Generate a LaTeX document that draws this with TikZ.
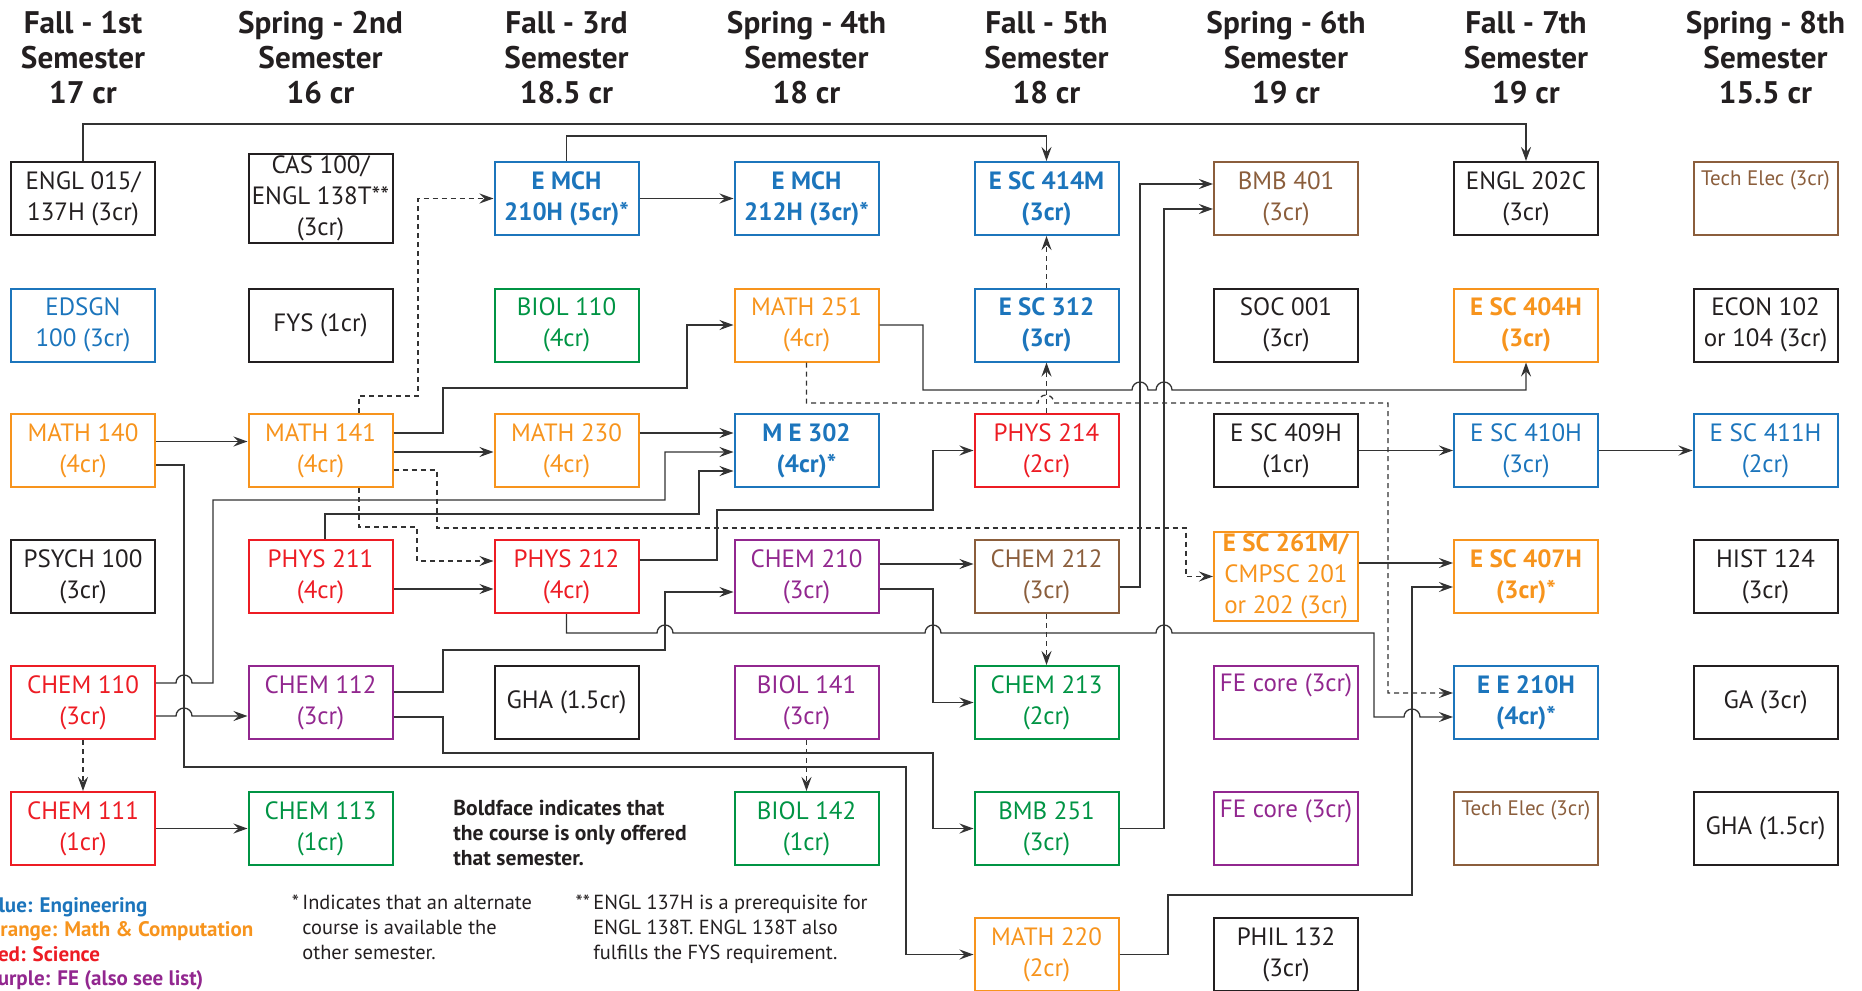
\documentclass[tikz,border=0pt]{standalone}
\usepackage{fontspec}
\setmainfont{PT Sans}
\usetikzlibrary{arrows.meta,calc}

\definecolor{engblue}{HTML}{1C75BC}
\definecolor{mathorange}{HTML}{F7941D}
\definecolor{scired}{HTML}{ED1C24}
\definecolor{fepurple}{HTML}{92278F}
\definecolor{biogreen}{HTML}{009444}
\definecolor{techbrown}{HTML}{8B5E3C}
\definecolor{boxblack}{HTML}{231F20}
\definecolor{linegray}{HTML}{333333}

\newcommand{\boxfont}{\fontsize{12.5}{15.5}\selectfont}

\begin{document}
\begin{tikzpicture}[x=0.5pt, y=-0.5pt,
    course/.style={draw=boxblack, text=boxblack, line width=1pt, minimum width=72pt,
        minimum height=36.5pt, inner sep=1pt, align=center, font=\boxfont},
    eng/.style={course, draw=engblue, text=engblue},
    mth/.style={course, draw=mathorange, text=mathorange},
    sci/.style={course, draw=scired, text=scired},
    fe/.style={course, draw=fepurple, text=fepurple},
    bio/.style={course, draw=biogreen, text=biogreen},
    tech/.style={course, draw=techbrown, text=techbrown},
    only/.style={font=\bfseries\boxfont},
    tall/.style={minimum height=44.5pt},
    toptext/.style={inner ysep=0pt, text height=12.75pt, text depth=23.75pt},
    techtext/.style={inner ysep=0pt, text height=11.75pt, text depth=24.75pt,
        font=\fontsize{10.5}{12}\selectfont},
    head/.style={align=center, text=boxblack, font=\bfseries\fontsize{15.6}{17.5}\selectfont},
    note/.style={align=left, inner sep=0pt, anchor=north west, text=boxblack,
        font=\fontsize{10.2}{12.5}\selectfont},
    link/.style={draw=linegray, line width=0.65pt, -{Stealth[length=7pt,width=5pt,inset=2.5pt]}},
    dlink/.style={link, dash pattern=on 2.5pt off 2pt}]

    \useasboundingbox (0,0) rectangle (1862,990);

    % semester headings
    \node[head] (h1) at (83,58)     {Fall - 1st\\Semester\\17 cr};
    \node[head] (h2) at (320.5,58)  {Spring - 2nd\\Semester\\16 cr};
    \node[head] (h3) at (566.5,58)  {Fall - 3rd\\Semester\\18.5 cr};
    \node[head] (h4) at (806.5,58)  {Spring - 4th\\Semester\\18 cr};
    \node[head] (h5) at (1046.5,58) {Fall - 5th\\Semester\\18 cr};
    \node[head] (h6) at (1286,58)   {Spring - 6th\\Semester\\19 cr};
    \node[head] (h7) at (1526,58)   {Fall - 7th\\Semester\\19 cr};
    \node[head] (h8) at (1765.5,58) {Spring - 8th\\Semester\\15.5 cr};

    % 1st semester
    \node[course] (engl015)  at (83,198.5) {ENGL 015/\\137H (3cr)};
    \node[eng]    (edsgn)    at (83,325)   {EDSGN\\100 (3cr)};
    \node[mth]    (math140)  at (83,450.5) {MATH 140\\(4cr)};
    \node[course] (psych)    at (83,576.5) {PSYCH 100\\(3cr)};
    \node[sci]    (chem110)  at (83,702.5) {CHEM 110\\(3cr)};
    \node[sci]    (chem111)  at (83,828.5) {CHEM 111\\(1cr)};

    % 2nd semester
    \node[course, tall] (cas100) at (320.5,198.5) {CAS 100/\\ENGL 138T**\\(3cr)};
    \node[course] (fys)      at (320.5,325)   {FYS (1cr)};
    \node[mth]    (math141)  at (320.5,450.5) {MATH 141\\(4cr)};
    \node[sci]    (phys211)  at (320.5,576.5) {PHYS 211\\(4cr)};
    \node[fe]     (chem112)  at (320.5,702.5) {CHEM 112\\(3cr)};
    \node[bio]    (chem113)  at (320.5,828.5) {CHEM 113\\(1cr)};

    % 3rd semester
    \node[eng, only] (emch210) at (566.5,198.5) {E MCH\\210H (5cr)*};
    \node[bio]    (biol110)  at (566.5,325)   {BIOL 110\\(4cr)};
    \node[mth]    (math230)  at (566.5,450.5) {MATH 230\\(4cr)};
    \node[sci]    (phys212)  at (566.5,576.5) {PHYS 212\\(4cr)};
    \node[course] (gha1)     at (566.5,702.5) {GHA (1.5cr)};

    % 4th semester
    \node[eng, only] (emch212) at (806.5,198.5) {E MCH\\212H (3cr)*};
    \node[mth]    (math251)  at (806.5,325)   {MATH 251\\(4cr)};
    \node[eng, only] (me302) at (806.5,450.5) {M E 302\\(4cr)*};
    \node[fe]     (chem210)  at (806.5,576.5) {CHEM 210\\(3cr)};
    \node[fe]     (biol141)  at (806.5,702.5) {BIOL 141\\(3cr)};
    \node[bio]    (biol142)  at (806.5,828.5) {BIOL 142\\(1cr)};

    % 5th semester
    \node[eng, only] (esc414) at (1046.5,198.5) {E SC 414M\\(3cr)};
    \node[eng, only] (esc312) at (1046.5,325)   {E SC 312\\(3cr)};
    \node[sci]    (phys214)  at (1046.5,450.5) {PHYS 214\\(2cr)};
    \node[tech]   (chem212)  at (1046.5,576.5) {CHEM 212\\(3cr)};
    \node[bio]    (chem213)  at (1046.5,702.5) {CHEM 213\\(2cr)};
    \node[bio]    (bmb251)   at (1046.5,828.5) {BMB 251\\(3cr)};
    \node[mth]    (math220)  at (1046.5,954.5) {MATH 220\\(2cr)};

    % 6th semester
    \node[tech]   (bmb401)   at (1286,198.5) {BMB 401\\(3cr)};
    \node[course] (soc001)   at (1286,325)   {SOC 001\\(3cr)};
    \node[course] (esc409)   at (1286,450.5) {E SC 409H\\(1cr)};
    \node[mth, tall] (esc261) at (1286,576.5) {\textbf{E SC 261M/}\\CMPSC 201\\or 202 (3cr)};
    \node[fe, toptext] (fe1) at (1286,702.5) {FE core (3cr)};
    \node[fe, toptext] (fe2) at (1286,828.5) {FE core (3cr)};
    \node[course] (phil132)  at (1286,954.5) {PHIL 132\\(3cr)};

    % 7th semester
    \node[course] (engl202c) at (1526,198.5) {ENGL 202C\\(3cr)};
    \node[mth, only] (esc404) at (1526,325)  {E SC 404H\\(3cr)};
    \node[eng]    (esc410)   at (1526,450.5) {E SC 410H\\(3cr)};
    \node[mth, only] (esc407) at (1526,576.5) {E SC 407H\\(3cr)*};
    \node[eng, only] (ee210) at (1526,702.5) {E E 210H\\(4cr)*};
    \node[tech, techtext] (tech1) at (1526,828.5) {Tech Elec (3cr)};

    % 8th semester
    \node[tech, techtext] (tech2) at (1765.5,198.5) {Tech Elec (3cr)};
    \node[course] (econ)     at (1765.5,325)   {ECON 102\\or 104 (3cr)};
    \node[eng]    (esc411)   at (1765.5,450.5) {E SC 411H\\(2cr)};
    \node[course] (hist124)  at (1765.5,576.5) {HIST 124\\(3cr)};
    \node[course] (ga)       at (1765.5,702.5) {GA (3cr)};
    \node[course] (gha2)     at (1765.5,828.5) {GHA (1.5cr)};

    % notes and legend
    \node[note, font=\bfseries\fontsize{10.8}{12.5}\selectfont] (boldnote) at (453,800)
        {Boldface indicates that\\the course is only offered\\that semester.};
    \node[note] (altnote) at (302,895)
        {\llap{*\,}Indicates that an alternate\\course is available the\\other semester.};
    \node[note] (englnote) at (593,895)
        {\llap{**\,}ENGL 137H is a prerequisite for\\ENGL 138T. ENGL 138T also\\fulfills the FYS requirement.};
    \node[note, font=\bfseries\fontsize{10.5}{12.25}\selectfont] (legend) at (-14,897)
        {\textcolor{engblue}{Blue: Engineering}\\
         \textcolor{mathorange}{Orange: Math \& Computation}\\
         \textcolor{scired}{Red: Science}\\
         \textcolor{fepurple}{Purple: FE (also see list)}};

    % prerequisites
    \draw[link] (engl015.north) -- ++(0,-37) -| (engl202c.north);
    \draw[link] (emch210.north) -- ++(0,-25) -| (esc414.north);
    \draw[link] (emch210) -- (emch212);
    \draw[dlink] ($(math141.north)+(38.5,0)$) |- (418,396) |- (emch210.west);
    \draw[link] ($(math140.east)+(0,-9)$) -- ($(math141.west)+(0,-9)$);
    \draw[link] ($(math140.east)+(0,14.5)$) -| (184,767) -- (906,767) |- (math220.west);
    \draw[link] ($(math141.east)+(0,-17.5)$) -| (443,388) -| (687,360) |- (math251.west);
    \draw[link] ($(math141.east)+(0,1.5)$) -- ($(math230.west)+(0,1.5)$);
    \draw[dlink] ($(math141.east)+(0,19.5)$) -| (437,528) -| (1186,560) |- (esc261.west);
    \draw[dlink] ($(math141.south)+(38.5,0)$) |- (417,527) |- ($(phys212.west)+(0,-15.5)$);
    \draw[link] ($(chem110.east)+(0,-19.5)$) -- (176,683) arc[start angle=180,end angle=360,radius=8]
        -| (213,600) |- (665,500) |- ($(me302.west)+(0,1.5)$);
    \draw[link] ($(phys211.north)+(4.5,0)$) |- (699,514) |- ($(me302.west)+(0,20.5)$);
    \draw[link] ($(math230.east)+(0,-17.5)$) -- ($(me302.west)+(0,-17.5)$);
    \draw[link] ($(phys211.east)+(0,12.5)$) -- ($(phys212.west)+(0,12.5)$);
    \draw[link] ($(phys212.east)+(0,-16.5)$) -| (717,510) -| (933,470) |- (phys214.west);
    \draw[link] (phys212.south) |- (657,633) arc[start angle=180,end angle=360,radius=8]
        -- (925,633) arc[start angle=180,end angle=360,radius=8]
        -- (1156,633) arc[start angle=180,end angle=360,radius=8]
        -| (1374,700) |- (1404,717) arc[start angle=180,end angle=360,radius=8]
        -- ($(ee210.west)+(0,14.5)$);
    \draw[link] ($(chem112.east)+(0,-10.5)$) -| (443,650) -| (665,610) |- ($(chem210.west)+(0,15.5)$);
    \draw[link] ($(chem112.east)+(0,14.5)$) -| (443,753) -| (933,800) |- (bmb251.west);
    \draw[link] ($(chem110.east)+(0,13.5)$) -- (176,716) arc[start angle=180,end angle=360,radius=8]
        -- ($(chem112.west)+(0,13.5)$);
    \draw[dlink] (chem110) -- (chem111);
    \draw[link] (chem111) -- (chem113);
    \draw[link] (math251.east) -| (923,390) -- (1132,390) arc[start angle=180,end angle=360,radius=8]
        -- (1156,390) arc[start angle=180,end angle=360,radius=8] -| (esc404.south);
    \draw[dlink] (math251.south) |- (1038,403) arc[start angle=180,end angle=360,radius=8]
        -| (1388,650) |- ($(ee210.west)+(0,-9.5)$);
    \draw[dlink] (phys214) -- (esc312);
    \draw[dlink] (esc312) -- (esc414);
    \draw[dlink] (biol141) -- (biol142);
    \draw[link] ($(chem210.east)+(0,-12.5)$) -- ($(chem212.west)+(0,-12.5)$);
    \draw[link] ($(chem210.east)+(0,12.5)$) -| (933,650) |- (chem213.west);
    \draw[dlink] (chem212) -- (chem213);
    \draw[link] ($(chem212.east)+(0,10.5)$) -| (1140,300) |- ($(bmb401.west)+(0,-14.5)$);
    \draw[link] (bmb251.east) -| (1164,500) |- ($(bmb401.west)+(0,10.5)$);
    \draw[link] (esc409) -- (esc410);
    \draw[link] (esc410) -- (esc411);
    \draw[link] ($(esc261.east)+(0,-13.5)$) -- ($(esc407.west)+(0,-13.5)$);
    \draw[link] (math220.east) -| (1168,895) -| (1412,700) |- ($(esc407.west)+(0,10.5)$);

\end{tikzpicture}
\end{document}
